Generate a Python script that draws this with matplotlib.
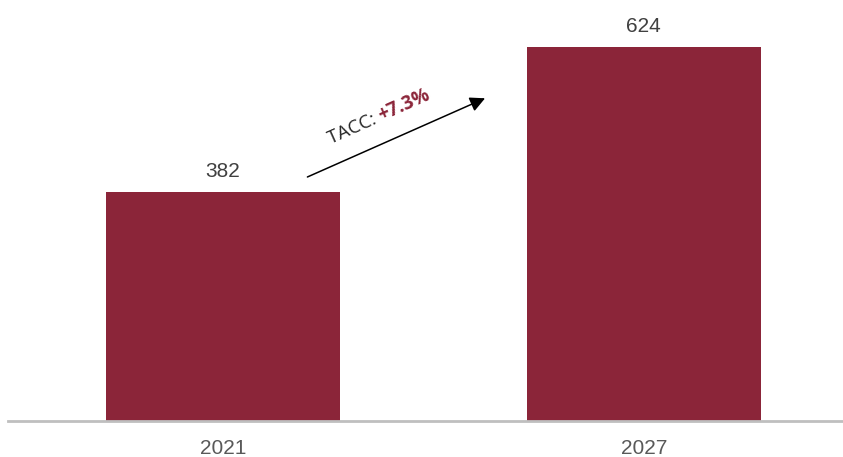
import numpy as np
import matplotlib.pyplot as plt
from matplotlib.transforms import offset_copy

# Dados
anos = ["2021", "2027"]
valores = [382, 624]
tacc = "+7.3%"

cor_barra = "#8B2539"

fig = plt.figure(figsize=(8.43, 4.57), dpi=100)
ax = fig.add_axes([8 / 843, 36 / 457, 835 / 843, 421 / 457])

pos = list(range(len(anos)))
ax.bar(pos, valores, width=0.556, color=cor_barra, zorder=2)

for p, v in zip(pos, valores):
    ax.annotate(str(v), (p, v), xytext=(0, 8), textcoords="offset points",
                ha="center", va="bottom", fontsize=15,
                family="Liberation Sans", color="#404040")

ax.set_xlim(-0.51, 1.473)
ax.set_ylim(0, 702)

ax.set_xticks(pos)
ax.set_xticklabels(anos, fontsize=15, family="Liberation Sans", color="#595959")
ax.tick_params(axis="x", length=0, pad=13)
ax.set_yticks([])

for s in ["top", "right", "left"]:
    ax.spines[s].set_visible(False)
ax.spines["bottom"].set_color("#BFBFBF")
ax.spines["bottom"].set_linewidth(2)

# Seta TACC
ax.annotate("", xy=(0.629, 540), xytext=(0.195, 405),
            arrowprops=dict(arrowstyle="-|>,head_length=0.9,head_width=0.45",
                            color="black", lw=1.1))

ang = 24
fs = 13.5
x0, y0 = 0.256, 462
ax.text(x0, y0, "TACC: ", rotation=ang, rotation_mode="anchor",
        ha="left", va="baseline", fontsize=fs, family="Open Sans",
        color="#262626")

# largura do primeiro trecho para colocar o segundo na sequência
fig.canvas.draw()
tmp = ax.text(0, 0, "TACC: ", fontsize=fs, family="Open Sans")
w = tmp.get_window_extent(renderer=fig.canvas.get_renderer()).width
tmp.remove()
w_pt = w * 72 / fig.dpi
dx = w_pt * np.cos(np.radians(ang))
dy = w_pt * np.sin(np.radians(ang))
tr = offset_copy(ax.transData, fig=fig, x=dx, y=dy, units="points")
ax.text(x0, y0, tacc, transform=tr, rotation=ang, rotation_mode="anchor",
        ha="left", va="baseline", fontsize=fs, family="Open Sans",
        fontweight="bold", color=cor_barra)

fig.savefig("out.png", dpi=100)
